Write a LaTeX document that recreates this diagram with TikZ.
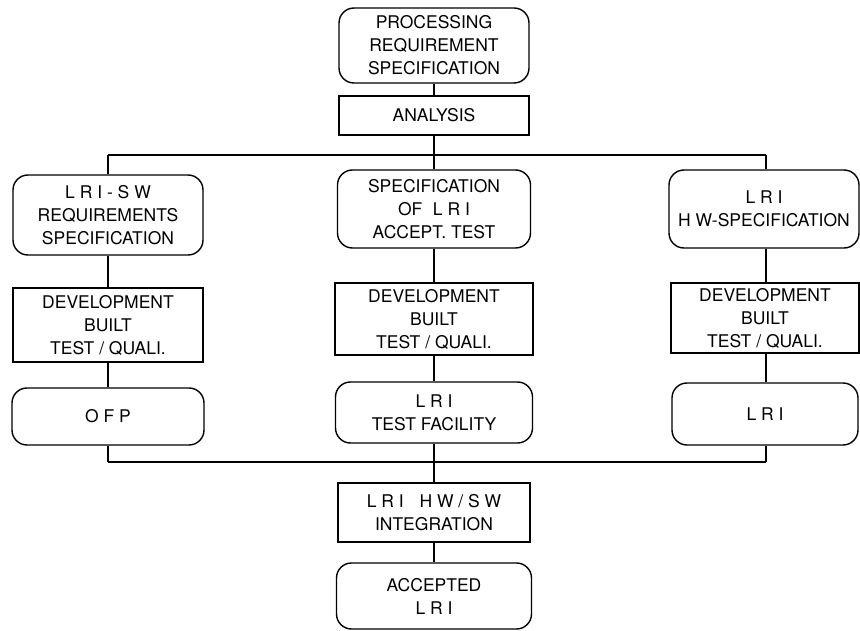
\documentclass[tikz,border=0pt]{standalone}
\usepackage{fontspec}
\setmainfont{TeX Gyre Heros}
\begin{document}
\begin{tikzpicture}[x=1pt,y=-1pt,
  every node/.style={font=\fontsize{17.5}{23}\selectfont, align=center, inner sep=0pt, line width=1.4pt},
  rbox/.style={draw, rounded corners=15pt, minimum width=#1},
  sbox/.style={draw, minimum width=#1},
  line/.style={line width=1.4pt}]
\useasboundingbox (0,0) rectangle (860,631);
% top
\node[rbox=190, minimum height=75] (top) at (434,45.5) {PROCESSING\\REQUIREMENT\\SPECIFICATION};
\node[sbox=190, minimum height=39] (ana) at (434,115.5) {ANALYSIS};
% left column
\node[rbox=190, minimum height=80] (lsw) at (108,215) {L R I - S W\\REQUIREMENTS\\SPECIFICATION};
\node[sbox=190, minimum height=74] (ldev) at (108,325) {DEVELOPMENT\\BUILT\\TEST / QUALI.};
\node[rbox=192, minimum height=57] (ofp) at (108,416.5) {O F P};
% middle column
\node[rbox=193, minimum height=78] (mspec) at (434,209) {SPECIFICATION\\OF\hspace{0.6em}L R I\\ACCEPT. TEST};
\node[sbox=198, minimum height=72] (mdev) at (434,319) {DEVELOPMENT\\BUILT\\TEST / QUALI.};
\node[rbox=197, minimum height=61] (mtf) at (434,412.5) {L R I\\TEST FACILITY};
% right column
\node[rbox=190, minimum height=78] (rhw) at (764,209) {L R I\\H W-SPECIFICATION};
\node[sbox=188, minimum height=70] (rdev) at (765,318) {DEVELOPMENT\\BUILT\\TEST / QUALI.};
\node[rbox=186, minimum height=62] (rlri) at (765,414) {L R I};
% bottom
\node[sbox=192, minimum height=59] (integ) at (434,512.5) {L R I\hspace{0.9em}H W / S W\\INTEGRATION};
\node[rbox=195, minimum height=66] (acc) at (434,596) {ACCEPTED\\L R I};
% buses
\coordinate (busTL) at (108,155);
\coordinate (busTR) at (766,155);
\coordinate (busBL) at (108,462);
\coordinate (busBR) at (766,462);
\draw[line] (busTL) -- (busTR);
\draw[line] (busBL) -- (busBR);
% connectors
\draw[line] (top) -- (ana);
\draw[line] (ana.south) -- (ana.south |- busTL);
\draw[line] (lsw.north) -- (lsw.north |- busTL);
\draw[line] (mspec.north) -- (mspec.north |- busTL);
\draw[line] (busTR) -- (busTR |- rhw.north);
\draw[line] (lsw) -- (ldev);
\draw[line] (ldev) -- (ofp);
\draw[line] (mspec) -- (mdev);
\draw[line] (mdev) -- (mtf);
\draw[line] (rhw.south -| busTR) -- (busTR |- rdev.north);
\draw[line] (rdev.south -| busTR) -- (busTR |- rlri.north);
\draw[line] (ofp.south) -- (ofp.south |- busBL);
\draw[line] (mtf.south) -- (integ.north);
\draw[line] (busBR |- rlri.south) -- (busBR);
\draw[line] (integ) -- (acc);
\end{tikzpicture}
\end{document}
